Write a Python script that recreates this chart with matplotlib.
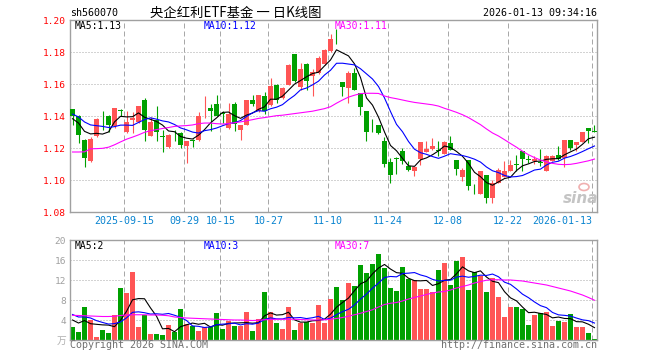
import numpy as np
import pandas as pd
import matplotlib
matplotlib.use('Agg')
import matplotlib.pyplot as plt

# daily candles, 88 trading days (2025-09-02 .. 2026-01-13)
opens = [1.1444, 1.1398, 1.1252, 1.1117, 1.1273, 1.1383, 1.1402, 1.1335, 1.1435, 1.1302,
         1.1375, 1.1360, 1.1502, 1.1277, 1.1377, 1.1275, 1.1208, 1.1296, 1.1296, 1.1210,
         1.1248, 1.1252, 1.1460, 1.1452, 1.1477, 1.1419, 1.1325, 1.1475, 1.1315, 1.1346,
         1.1502, 1.1431, 1.1527, 1.1467, 1.1596, 1.1513, 1.1596, 1.1788, 1.1579, 1.1727,
         1.1648, 1.1669, 1.1725, 1.1804, 1.1940, 1.1613, 1.1575, 1.1669, 1.1544, 1.1429,
         1.1358, 1.1346, 1.1246, 1.1113, 1.1138, 1.1179, 1.1085, 1.1058, 1.1133, 1.1173,
         1.1196, 1.1185, 1.1162, 1.1231, 1.1127, 1.1017, 1.1127, 1.0958, 1.0915, 1.1033,
         1.0887, 1.0981, 1.1017, 1.1054, 1.1098, 1.1183, 1.1129, 1.1117, 1.1113, 1.1058,
         1.1117, 1.1158, 1.1138, 1.1252, 1.1221, 1.1235, 1.1325, 1.1306]
highs = [1.1444, 1.1408, 1.1258, 1.1267, 1.1390, 1.1429, 1.1406, 1.1452, 1.1446, 1.1431,
         1.1427, 1.1465, 1.1515, 1.1392, 1.1465, 1.1310, 1.1285, 1.1315, 1.1300, 1.1246,
         1.1258, 1.1427, 1.1527, 1.1475, 1.1529, 1.1429, 1.1481, 1.1487, 1.1346, 1.1502,
         1.1533, 1.1533, 1.1550, 1.1637, 1.1600, 1.1580, 1.1725, 1.1790, 1.1731, 1.1730,
         1.1696, 1.1775, 1.1820, 1.1913, 1.1942, 1.1613, 1.1679, 1.1700, 1.1544, 1.1430,
         1.1383, 1.1346, 1.1267, 1.1140, 1.1142, 1.1200, 1.1117, 1.1083, 1.1235, 1.1242,
         1.1262, 1.1242, 1.1246, 1.1273, 1.1127, 1.1075, 1.1127, 1.0975, 1.1054, 1.1033,
         1.1000, 1.1075, 1.1117, 1.1123, 1.1158, 1.1183, 1.1158, 1.1150, 1.1194, 1.1158,
         1.1158, 1.1210, 1.1252, 1.1252, 1.1235, 1.1298, 1.1325, 1.1346]
lows = [1.1346, 1.1231, 1.1080, 1.1112, 1.1270, 1.1315, 1.1300, 1.1325, 1.1398, 1.1294,
        1.1292, 1.1358, 1.1246, 1.1273, 1.1246, 1.1173, 1.1200, 1.1242, 1.1200, 1.1104,
        1.1204, 1.1246, 1.1387, 1.1304, 1.1398, 1.1356, 1.1321, 1.1308, 1.1252, 1.1346,
        1.1460, 1.1425, 1.1410, 1.1465, 1.1480, 1.1505, 1.1596, 1.1610, 1.1565, 1.1565,
        1.1523, 1.1665, 1.1720, 1.1800, 1.1850, 1.1523, 1.1481, 1.1560, 1.1404, 1.1246,
        1.1300, 1.1290, 1.1079, 1.0981, 1.1038, 1.1100, 1.1054, 1.1023, 1.1092, 1.1173,
        1.1190, 1.1150, 1.1162, 1.1190, 1.1033, 1.0992, 1.0940, 1.0912, 1.0915, 1.0856,
        1.0856, 1.0981, 1.1017, 1.1054, 1.1054, 1.1054, 1.1106, 1.1100, 1.1085, 1.1058,
        1.1117, 1.1125, 1.1079, 1.1190, 1.1179, 1.1235, 1.1231, 1.1298]
closes = [1.1402, 1.1280, 1.1137, 1.1256, 1.1383, 1.1379, 1.1346, 1.1452, 1.1430, 1.1365,
          1.1385, 1.1465, 1.1315, 1.1365, 1.1300, 1.1271, 1.1281, 1.1292, 1.1217, 1.1246,
          1.1244, 1.1402, 1.1465, 1.1429, 1.1400, 1.1415, 1.1415, 1.1350, 1.1346, 1.1502,
          1.1477, 1.1533, 1.1429, 1.1585, 1.1498, 1.1575, 1.1721, 1.1617, 1.1696, 1.1617,
          1.1675, 1.1763, 1.1815, 1.1881, 1.1935, 1.1579, 1.1669, 1.1565, 1.1454, 1.1298,
          1.1354, 1.1294, 1.1100, 1.1033, 1.1133, 1.1117, 1.1060, 1.1083, 1.1235, 1.1196,
          1.1215, 1.1181, 1.1235, 1.1190, 1.1071, 1.1065, 1.0960, 1.0954, 1.1054, 1.0887,
          1.0981, 1.1065, 1.1058, 1.1096, 1.1094, 1.1131, 1.1125, 1.1133, 1.1109, 1.1148,
          1.1148, 1.1131, 1.1252, 1.1200, 1.1235, 1.1298, 1.1304, 1.1302]
# volume, 万
volumes = [2.67, 1.70, 6.65, 4.00, 0.67, 2.10, 1.47, 5.10, 10.45, 9.50,
           13.70, 2.67, 4.93, 1.27, 1.27, 1.03, 3.10, 1.60, 6.30, 3.15,
           2.80, 1.90, 2.55, 2.55, 5.50, 2.30, 3.75, 2.90, 2.72, 5.70,
           1.72, 4.30, 9.70, 5.70, 3.50, 2.15, 6.70, 2.10, 3.40, 3.60,
           3.40, 7.05, 3.40, 8.30, 10.67, 8.07, 11.47, 10.87, 15.07, 13.47,
           15.27, 17.27, 14.47, 10.47, 9.87, 14.67, 12.27, 12.07, 10.27, 10.27,
           9.67, 14.07, 15.47, 11.07, 15.87, 16.67, 10.07, 13.67, 12.87, 9.67,
           12.47, 8.67, 4.67, 6.67, 6.67, 6.27, 3.07, 5.07, 5.47, 5.67,
           2.87, 3.87, 3.67, 5.27, 2.67, 2.67, 1.47, 0.27]
# sessions before the visible window (only feed the moving averages)
prev_closes = [1.1460, 1.1450, 1.1440, 1.1430, 1.1425, 1.1415, 1.1397, 1.1336, 1.1365]
prev_volumes = [6.7, 6.4, 6.2, 6.0, 5.7, 4.73, 4.17, 7.15, 1.28]
# 30-day averages
ma30_price = [1.1175, 1.1175, 1.1176, 1.1195, 1.1196, 1.1198, 1.1205, 1.1220, 1.1238, 1.1255,
              1.1268, 1.1282, 1.1298, 1.1308, 1.1315, 1.1322, 1.1328, 1.1335, 1.1338, 1.1340,
              1.1344, 1.1352, 1.1356, 1.1356, 1.1352, 1.1350, 1.1352, 1.1358, 1.1363, 1.1370,
              1.1377, 1.1385, 1.1390, 1.1396, 1.1402, 1.1405, 1.1410, 1.1415, 1.1420, 1.1425,
              1.1430, 1.1438, 1.1446, 1.1458, 1.1480, 1.1500, 1.1518, 1.1530, 1.1540, 1.1542,
              1.1542, 1.1541, 1.1525, 1.1515, 1.1508, 1.1500, 1.1492, 1.1485, 1.1480, 1.1475,
              1.1470, 1.1462, 1.1448, 1.1436, 1.1423, 1.1408, 1.1390, 1.1368, 1.1346, 1.1319,
              1.1294, 1.1275, 1.1252, 1.1228, 1.1205, 1.1180, 1.1158, 1.1140, 1.1125, 1.1113,
              1.1104, 1.1098, 1.1096, 1.1098, 1.1104, 1.1112, 1.1120, 1.1131]
ma30_vol = [4.93, 4.90, 4.85, 4.80, 4.75, 4.70, 4.70, 4.75, 4.90, 5.00,
            5.05, 5.05, 5.05, 5.00, 5.00, 4.95, 4.85, 4.60, 4.50, 4.40,
            4.35, 4.30, 4.25, 4.20, 4.15, 4.10, 4.05, 4.00, 4.00, 3.95,
            3.90, 3.95, 4.05, 4.10, 4.15, 4.15, 4.15, 4.15, 4.10, 4.05,
            4.00, 4.00, 4.05, 4.15, 4.30, 4.50, 4.75, 5.05, 5.35, 5.70,
            6.05, 6.60, 7.10, 7.35, 7.50, 7.80, 8.20, 8.50, 8.80, 9.10,
            9.40, 9.60, 9.70, 10.00, 10.40, 10.70, 11.00, 11.40, 11.70, 11.95,
            12.05, 12.05, 12.00, 12.00, 11.90, 11.80, 11.60, 11.40, 11.20, 11.00,
            10.70, 10.40, 10.10, 9.80, 9.40, 9.00, 8.50, 7.95]
tick_idx = [9, 19, 25, 33, 43, 53, 63, 73, 87]
tick_labels = ['2025-09-15', '09-29', '10-15', '10-27', '11-10', '11-24', '12-08', '12-22', '2026-01-13']
price_ticks = [1.08, 1.10, 1.12, 1.14, 1.16, 1.18, 1.20]
vol_ticks = [4, 8, 12, 16, 20]

RED = '#ff5555'
GREEN = '#00a000'
GRID = '#a8a8a8'
FRAME = '#a0a0a0'
XBLUE = '#0a84d0'
MONO = 'DejaVu Sans Mono'
CJK = ['Noto Sans CJK SC', 'DejaVu Sans']

W, H = 660, 360
n = len(closes)
x = np.arange(n)

c_all = pd.Series(prev_closes + closes)
ma5 = c_all.rolling(5).mean().values[len(prev_closes):]
ma10 = c_all.rolling(10).mean().values[len(prev_closes):]
v_all = pd.Series(prev_volumes + volumes)
vma5 = v_all.rolling(5).mean().values[len(prev_volumes):]
vma10 = v_all.rolling(10).mean().values[len(prev_volumes):]

up = np.array(closes) >= np.array(opens)
colors = [RED if u else GREEN for u in up]


def fx(px):
    return px / W


def fy(py):
    return 1 - py / H


fig = plt.figure(figsize=(6.6, 3.6), dpi=100)
ax = fig.add_axes([fx(70), fy(212), fx(527), 192 / H])
axv = fig.add_axes([fx(70), fy(340), fx(527), 100 / H])

xlim = (-0.42, n - 1 + 0.42)
grid_x = [i - 0.37 for i in tick_idx]

for a in (ax, axv):
    a.set_xlim(*xlim)
    for s in a.spines.values():
        s.set_color(FRAME)
        s.set_linewidth(1.0)
    a.set_xticks([])
    a.tick_params(axis='y', length=0, pad=3)
    for g in grid_x:
        a.axvline(g, color=GRID, lw=0.72, ls=(0, (5, 3)), zorder=0)

# price panel
ax.set_ylim(1.08, 1.20)
for lv in price_ticks[1:-1]:
    ax.axhline(lv, color=GRID, lw=0.72, ls=(0, (1, 2)), zorder=0)
ax.set_yticks(price_ticks)
ax.set_yticklabels(['%.2f' % t for t in price_ticks], color='red', fontsize=6.8, family=MONO)

o = np.array(opens)
c = np.array(closes)
ax.vlines(x, lows, highs, colors=colors, lw=0.8, zorder=2)
body_lo = np.minimum(o, c)
body_h = np.maximum(np.abs(c - o), 0.0003)
ax.bar(x, body_h, bottom=body_lo, width=0.8, color=colors, linewidth=0, zorder=3)

ax.plot(x, ma5, color='black', lw=0.8, zorder=4)
ax.plot(x, ma10, color='#0000ff', lw=0.8, zorder=4)
ax.plot(x, ma30_price, color='#ff00ff', lw=0.8, zorder=4)

# volume panel
axv.set_ylim(0, 20)
for lv in vol_ticks[:-1]:
    axv.axhline(lv, color=GRID, lw=0.72, ls=(0, (1, 2)), zorder=0)
axv.set_yticks(vol_ticks)
axv.set_yticklabels([str(t) for t in vol_ticks], color='#a0a0a0', fontsize=6.8, family=MONO)
axv.bar(x, volumes, width=0.8, color=colors, linewidth=0, zorder=2)
axv.plot(x, vma5, color='black', lw=0.8, zorder=4)
axv.plot(x, vma10, color='#0000ff', lw=0.8, zorder=4)
axv.plot(x, ma30_vol, color='#ff00ff', lw=0.8, zorder=4)

# date labels
for g, lab in zip(grid_x, tick_labels):
    px = 70 + (g - xlim[0]) / (xlim[1] - xlim[0]) * 527
    ha = 'right' if lab == tick_labels[-1] else 'center'
    fig.text(fx(px), fy(221.5), lab, color=XBLUE, fontsize=7.2, family=MONO, ha=ha, va='center')

# headers
fig.text(fx(70), fy(12.5), 'sh560070', fontsize=7.2, family=MONO, va='center')
fig.text(fx(150), fy(12.5), '央企红利ETF基金 一 日K线图', fontsize=9.6, family=CJK, va='center')
fig.text(fx(597), fy(12.5), '2026-01-13 09:34:16', fontsize=7.2, family=MONO, va='center', ha='right')

fig.text(fx(75), fy(26), 'MA5:%.2f' % ma5[-1], fontsize=7, family=MONO, va='center')
fig.text(fx(204), fy(26), 'MA10:%.2f' % ma10[-1], fontsize=7, family=MONO, va='center', color='#0000ff')
fig.text(fx(335), fy(26), 'MA30:%.2f' % ma30_price[-1], fontsize=7, family=MONO, va='center', color='#ff00ff')

fig.text(fx(75), fy(246), 'MA5:%d' % int(vma5[-1]), fontsize=7, family=MONO, va='center')
fig.text(fx(204), fy(246), 'MA10:%d' % int(vma10[-1]), fontsize=7, family=MONO, va='center', color='#0000ff')
fig.text(fx(335), fy(246), 'MA30:%d' % int(ma30_vol[-1]), fontsize=7, family=MONO, va='center', color='#ff00ff')

fig.text(fx(66), fy(341), '万', fontsize=7, family=CJK, va='center', ha='right', color='#b0b0b0')
fig.text(fx(70), fy(345.5), 'Copyright 2026 SINA.COM', fontsize=7.2, family=MONO, va='center', color='#707070')
fig.text(fx(597), fy(345.5), 'http://finance.sina.com.cn', fontsize=7.2, family=MONO, va='center',
         ha='right', color='#707070')

# sina watermark
fig.text(fx(581), fy(198), 'sina', fontsize=11, style='italic', weight='bold', color='#c4c4c4',
         ha='center', va='center', family='DejaVu Sans')
fig.patches.append(matplotlib.patches.Ellipse((fx(584), fy(187)), 10 / W, 7 / H, transform=fig.transFigure,
                                              fill=False, edgecolor='#f0b0b0', lw=1.2))

fig.savefig('out.png', dpi=100, facecolor='white')
